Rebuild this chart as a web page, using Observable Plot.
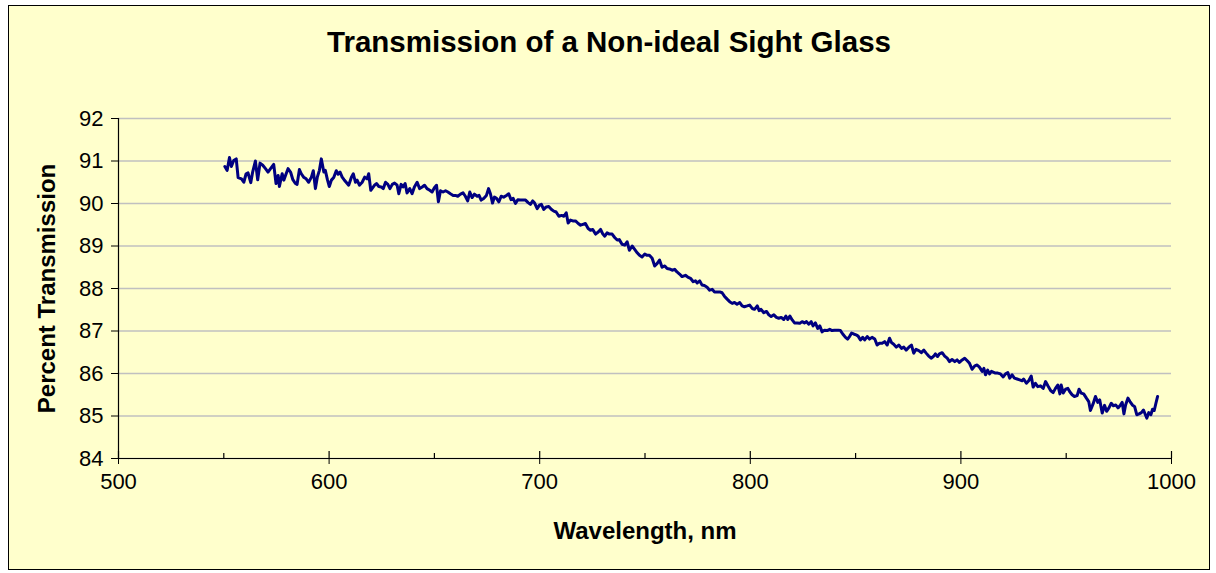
<!DOCTYPE html>
<html>
<head>
<meta charset="utf-8">
<script src="https://cdn.jsdelivr.net/npm/d3@7"></script>
<script src="https://cdn.jsdelivr.net/npm/@observablehq/plot@0.6"></script>
<style>
  html, body { margin: 0; padding: 0; background: #ffffff; }
  #frame {
    position: absolute; left: 8px; top: 5px; width: 1200px; height: 563px;
    border: 1px solid #000; background: #FFFFCC; overflow: hidden;
    font-family: "Liberation Sans", Arial, sans-serif;
  }
  #title {
    height: 72px; line-height: 72px; text-align: center;
    font-weight: bold; font-size: 29.5px; color: #000;
  }
  #chart svg { display: block; }
</style>
</head>
<body>
<div id="frame">
  <div id="title">Transmission of a Non-ideal Sight Glass</div>
  <div id="chart"></div>
</div>
<script>
const wavelength = [
550.5,551.6,552.7,553.6,554.7,555.9,556.8,558.4,559.5,560.6,561.5,562.8,563.7,565.0,566.1,567.2,568.5,569.8,571.0,572.2,
573.7,574.8,575.8,576.4,577.7,578.5,579.6,580.5,581.7,582.8,584.0,584.8,585.9,586.8,587.9,589.1,590.3,591.6,592.5,593.5,
594.4,595.4,596.3,597.5,598.2,599.2,600.1,601.1,602.2,603.4,604.3,605.2,606.2,607.1,608.1,609.3,610.6,611.5,612.5,613.3,
614.4,615.7,616.9,618.0,618.8,619.8,
621.6,622.5,623.6,624.7,625.7,626.8,627.9,628.9,630.0,631.1,632.3,633.1,634.2,635.1,636.1,637.0,638.3,639.4,640.5,641.8,
643.0,644.2,645.3,646.5,647.8,648.9,650.0,651.0,651.9,652.9,654.1,655.3,656.4,657.6,658.9,660.0,661.1,662.4,663.6,664.7,
665.8,666.8,667.9,669.0,670.3,671.2,672.2,673.4,674.7,675.7,676.6,677.6,678.5,679.5,680.6,681.7,682.9,684.2,685.3,686.4,
687.4,688.5,689.6,690.8,692.1,
693.3,694.5,695.6,696.7,697.6,698.8,699.9,700.8,701.9,703.1,704.3,705.6,706.7,707.8,709.1,710.4,711.5,712.6,713.5,714.6,
715.7,717.0,718.3,719.4,720.5,721.7,723.0,724.1,725.2,726.5,727.8,728.9,730.0,730.9,732.0,733.1,734.4,735.6,736.8,737.8,
739.1,740.4,741.5,742.6,743.9,745.1,746.3,747.4,748.6,749.9,751.0,752.1,753.4,754.6,755.8,756.9,758.1,759.4,760.5,761.6,
762.9,764.1,765.2,766.4,767.6,
769.2,770.3,771.6,772.9,774.0,774.8,776.0,777.1,778.2,779.5,780.7,781.9,783.0,784.2,785.5,786.6,787.7,789.0,790.2,791.4,
792.5,793.7,795.0,796.1,797.2,798.5,799.7,800.9,802.0,803.3,804.2,805.1,806.4,807.7,808.8,809.9,811.2,812.4,813.5,814.7,
815.9,816.9,817.8,818.8,819.9,821.0,822.3,823.5,824.6,825.7,826.7,827.8,828.9,829.8,830.9,832.0,833.0,834.1,835.2,836.5,
837.7,838.8,840.0,
841.8,842.8,843.9,845.2,846.2,847.1,848.1,849.1,850.2,851.2,852.3,853.4,854.3,855.5,856.6,857.8,859.1,860.2,861.3,862.6,
863.8,865.0,866.1,867.0,868.1,869.3,870.5,871.8,872.9,874.0,875.3,876.5,877.6,878.7,880.0,881.2,882.4,883.5,884.7,886.0,
887.1,887.9,888.9,889.8,891.1,892.3,893.5,894.6,895.8,897.1,898.2,899.3,900.6,901.8,903.0,904.1,905.3,906.6,907.7,908.8,
910.1,910.9,911.7,912.7,913.6,914.5,
916.4,917.5,918.8,920.1,921.2,922.3,923.2,924.3,925.4,926.7,927.9,929.1,929.8,931.1,932.2,933.4,934.3,935.4,936.5,937.8,
939.1,940.2,941.3,942.6,943.8,944.9,946.0,947.0,947.6,948.6,949.7,950.8,951.7,952.8,953.9,955.2,956.1,957.1,958.3,959.6,
960.7,961.5,962.8,963.9,965.0,965.9,967.1,968.2,969.2,970.3,971.4,972.4,973.5,974.6,975.8,976.6,977.4,978.2,979.3,980.3,
981.4,982.5,983.5,984.6,985.7,986.7,987.6,988.3,989.2,990.2,991.0,991.8,992.6,993.4
];
const transmission = [
90.87,90.78,91.08,90.87,91.01,91.05,90.61,90.58,90.50,90.70,90.72,90.49,90.74,91.00,90.56,90.95,90.90,90.82,90.74,90.82,
90.92,90.47,90.66,90.40,90.70,90.55,90.70,90.82,90.74,90.56,90.47,90.45,90.80,90.70,90.62,90.58,90.50,90.62,90.77,90.35,
90.62,90.78,91.05,90.74,90.78,90.56,90.40,90.55,90.61,90.77,90.69,90.74,90.62,90.56,90.50,90.43,90.62,90.70,90.50,90.55,
90.43,90.50,90.62,90.58,90.70,90.31,
90.43,90.47,90.40,90.39,90.35,90.50,90.45,90.35,90.45,90.48,90.43,90.23,90.45,90.39,90.47,90.25,90.35,90.23,90.39,90.50,
90.35,90.39,90.43,90.35,90.31,90.27,90.37,90.43,90.04,90.30,90.27,90.30,90.27,90.23,90.19,90.19,90.17,90.22,90.25,90.17,
90.06,90.27,90.14,90.22,90.17,90.19,90.08,90.12,90.19,90.35,90.23,90.01,90.15,90.12,90.04,90.17,90.15,90.19,90.23,90.09,
90.12,90.00,90.09,90.08,90.08,
90.08,90.02,89.98,90.06,90.01,89.88,89.96,89.98,89.86,89.92,89.93,89.86,89.82,89.80,89.70,89.72,89.70,89.78,89.54,89.61,
89.59,89.59,89.53,89.49,89.51,89.53,89.41,89.37,89.39,89.28,89.33,89.39,89.28,89.23,89.31,89.28,89.28,89.20,89.14,89.15,
89.04,89.02,89.10,88.90,89.00,88.92,88.84,88.78,88.74,88.81,88.78,88.78,88.71,88.53,88.59,88.67,88.50,88.53,88.47,88.46,
88.43,88.45,88.39,88.34,88.28,
88.31,88.27,88.24,88.16,88.18,88.13,88.18,88.08,88.07,88.03,87.96,87.98,87.92,87.92,87.92,87.90,87.82,87.75,87.69,87.65,
87.67,87.63,87.67,87.59,87.57,87.59,87.61,87.53,87.51,87.59,87.48,87.51,87.43,87.46,87.38,87.34,87.38,87.32,87.30,87.32,
87.27,87.35,87.27,87.35,87.26,87.19,87.19,87.18,87.22,87.19,87.22,87.16,87.22,87.12,87.19,87.06,87.12,86.98,87.02,87.01,
87.04,87.01,87.02,
87.02,87.01,86.93,86.85,86.81,86.87,86.95,86.93,86.91,86.88,86.79,86.85,86.79,86.87,86.81,86.85,86.81,86.67,86.71,86.71,
86.75,86.67,86.83,86.73,86.69,86.62,86.67,86.59,86.62,86.55,86.62,86.67,86.48,86.57,86.54,86.49,86.55,86.48,86.41,86.36,
86.41,86.46,86.40,86.46,86.49,86.41,86.36,86.28,86.33,86.28,86.32,86.26,86.32,86.36,86.30,86.24,86.10,86.18,86.20,86.15,
86.05,86.12,85.97,86.08,85.99,86.05,
86.01,86.01,85.99,85.92,85.99,86.02,85.89,85.97,85.89,85.87,85.85,85.83,85.87,85.77,85.83,85.94,85.68,85.77,85.69,85.71,
85.65,85.81,85.71,85.60,85.55,85.65,85.73,85.52,85.73,85.54,85.63,85.65,85.57,85.50,85.46,85.48,85.63,85.54,85.52,85.42,
85.34,85.13,85.29,85.46,85.32,85.38,85.07,85.25,85.11,85.19,85.30,85.24,85.26,85.19,85.26,85.32,85.05,85.26,85.42,85.34,
85.26,85.22,85.03,85.05,85.08,85.14,85.03,84.95,85.08,85.03,85.16,85.13,85.30,85.46
];
const xTicks = [500, 600, 700, 800, 900, 1000];
const xMinorTicks = [550, 650, 750, 850, 950];
const yTicks = [84, 85, 86, 87, 88, 89, 90, 91, 92];
const xLabel = "Wavelength, nm";
const yLabel = "Percent Transmission";

const data = wavelength.map((w, i) => ({w, t: transmission[i]}));

const W = 1200, H = 491;
const mL = 109, mR = 38, mT = 40, mB = 111;
const innerH = H - mT - mB;

const chart = Plot.plot({
  width: W, height: H,
  marginLeft: mL, marginRight: mR, marginTop: mT, marginBottom: mB,
  style: {
    background: "transparent",
    fontFamily: "'Liberation Sans', Arial, sans-serif",
    fontSize: "22px",
    color: "#000",
    overflow: "visible"
  },
  x: {domain: [500, 1000]},
  y: {domain: [84, 92]},
  marks: [
    Plot.gridY({ticks: yTicks, stroke: "#c0c0c0", strokeOpacity: 1, strokeWidth: 1.5}),
    Plot.axisY({ticks: yTicks, tickSize: 7, tickPadding: 8, label: null, tickFormat: d => String(d)}),
    Plot.axisX({ticks: xTicks, tickSize: 6, tickPadding: 9, label: null, tickFormat: d => String(d)}),
    Plot.ruleX(xTicks, {x: d => d, insetTop: innerH - 7, stroke: "#000", strokeWidth: 1.2}),
    Plot.ruleX(xMinorTicks, {x: d => d, insetTop: innerH - 5, stroke: "#000", strokeWidth: 1.2}),
    Plot.ruleY([84], {stroke: "#000", strokeWidth: 1.2}),
    Plot.ruleX([500], {stroke: "#000", strokeWidth: 1.2}),
    Plot.line(data, {x: "w", y: "t", stroke: "#000080", strokeWidth: 3}),
    Plot.text([xLabel], {text: d => d, frameAnchor: "bottom", dy: 80, fontWeight: "bold", fontSize: 24}),
    Plot.text([yLabel], {text: d => d, frameAnchor: "left", textAnchor: "middle", dx: -71, rotate: -90, fontWeight: "bold", fontSize: 24})
  ]
});
document.getElementById("chart").appendChild(chart);
</script>
</body>
</html>
